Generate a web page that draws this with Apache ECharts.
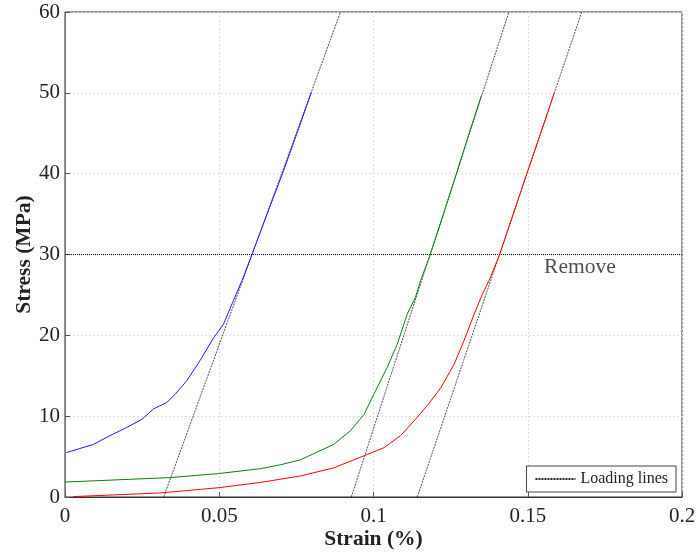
<!DOCTYPE html>
<html><head><meta charset="utf-8">
<script src="https://cdn.jsdelivr.net/npm/echarts@6/dist/echarts.min.js"></script>
<style>html,body{margin:0;padding:0;background:#fff}#c{width:696px;height:554px}</style>
</head><body><div id="c"></div>
<script>
var xTicks = [0, 0.05, 0.1, 0.15, 0.2];
var yTicks = [0, 10, 20, 30, 40, 50, 60];
var blueCurve = [[0.0005,5.5],[0.0092,6.5],[0.0146,7.6],[0.020,8.6],[0.0249,9.6],[0.0287,10.9],[0.033,11.7],[0.0357,12.7],[0.0395,14.4],[0.0438,16.9],[0.0482,19.7],[0.0514,21.4],[0.0546,24.3],[0.0574,26.8],[0.0606,30],[0.0655,35],[0.0705,40],[0.0752,45],[0.0799,50.1]];
var greenCurve = [[0.0,1.85],[0.0341,2.4],[0.0498,2.9],[0.0633,3.5],[0.070,4.0],[0.0763,4.6],[0.0871,6.5],[0.0925,8.2],[0.0969,10.2],[0.1001,12.7],[0.1044,16.0],[0.1077,18.9],[0.1109,22.6],[0.1136,24.7],[0.1153,26.8],[0.1184,30],[0.1227,35],[0.1269,40],[0.131,45],[0.135,49.7]];
var redCurve = [[0.0027,0.05],[0.0308,0.5],[0.0498,1.15],[0.0633,1.8],[0.0763,2.6],[0.0871,3.6],[0.0969,5.1],[0.1034,6.1],[0.1088,7.6],[0.1131,9.4],[0.1174,11.3],[0.1218,13.5],[0.1261,16.4],[0.1293,19.3],[0.1326,22.6],[0.1353,25.1],[0.1375,26.8],[0.1409,30],[0.1453,35],[0.1497,40],[0.1542,45],[0.1586,50]];
var loadLine1 = [[0.032,0],[0.0893,60]];
var loadLine2 = [[0.0928,0],[0.1439,60]];
var loadLine3 = [[0.1142,0],[0.1675,60]];
var removeLine = [[0,30],[0.2,30]];
var removeLabel = [[0.1669,28.4]];

var chart = echarts.init(document.getElementById('c'), null, {renderer:'canvas'});
var serif = 'Liberation Serif';
function curve(name, data, color){
  return {name:name, type:'line', data:data, symbol:'none', silent:true,
    lineStyle:{color:color, width:1}, itemStyle:{color:color}, z:3, animation:false};
}
function lline(data){
  return {name:'Loading lines', type:'line', data:data, symbol:'none', silent:true,
    lineStyle:{color:'#222', width:0.8, type:[2,1]}, itemStyle:{color:'#222'}, z:2, animation:false};
}
chart.setOption({
  animation:false,
  grid:{left:65, right:14, top:12, bottom:57, show:true, borderColor:'#333', borderWidth:1, outerBoundsMode:'none', containLabel:false},
  legend:{data:[{name:'Loading lines'}], right:20, bottom:62, orient:'horizontal',
    backgroundColor:'#fff', borderColor:'#444', borderWidth:1, padding:[5,8,5,8],
    itemWidth:40, itemHeight:10, itemGap:6, itemStyle:{opacity:0},
    textStyle:{fontFamily:serif, fontSize:16, color:'#222'}, selectedMode:false},
  xAxis:{type:'value', min:0, max:0.2, interval:0.05,
    name:'Strain (%)', nameLocation:'middle', nameGap:31, nameMoveOverlap:false,
    nameTextStyle:{fontFamily:serif, fontWeight:'bold', fontSize:21.5, color:'#222'},
    axisLine:{show:true, lineStyle:{color:'#333'}},
    axisTick:{show:true, inside:true, length:5, lineStyle:{color:'#555'}},
    axisLabel:{fontFamily:serif, fontSize:21, color:'#222', margin:9,
      formatter:function(v){return xTicks.indexOf(v)>=0 ? String(v) : '';}},
    splitLine:{show:true, lineStyle:{color:'#ddd', type:[2,2], width:1}}},
  yAxis:{type:'value', min:0, max:60, interval:10,
    name:'Stress (MPa)', nameLocation:'middle', nameGap:30, nameMoveOverlap:false,
    nameTextStyle:{fontFamily:serif, fontWeight:'bold', fontSize:21.5, color:'#222'},
    axisLine:{show:true, lineStyle:{color:'#777'}},
    axisTick:{show:true, inside:true, length:5, lineStyle:{color:'#555'}},
    axisLabel:{fontFamily:serif, fontSize:21, color:'#222', margin:5,
      formatter:function(v){return yTicks.indexOf(v)>=0 ? String(v) : '';}},
    splitLine:{show:true, lineStyle:{color:'#ddd', type:[2,2], width:1}}},
  series:[
    curve('blue', blueCurve, '#1a1aff'),
    curve('green', greenCurve, '#0a800a'),
    curve('red', redCurve, '#ff0000'),
    lline(loadLine1), lline(loadLine2), lline(loadLine3),
    {name:'remove', type:'line', data:removeLine, symbol:'none', silent:true,
      lineStyle:{color:'#111', width:1, type:[1,1]}, z:2},
    {name:'removeText', type:'scatter', data:removeLabel, symbolSize:0, silent:true,
      label:{show:true, position:'inside', formatter:'Remove', fontFamily:serif, fontSize:21.5, color:'#222'}}
  ]
});
</script></body></html>
